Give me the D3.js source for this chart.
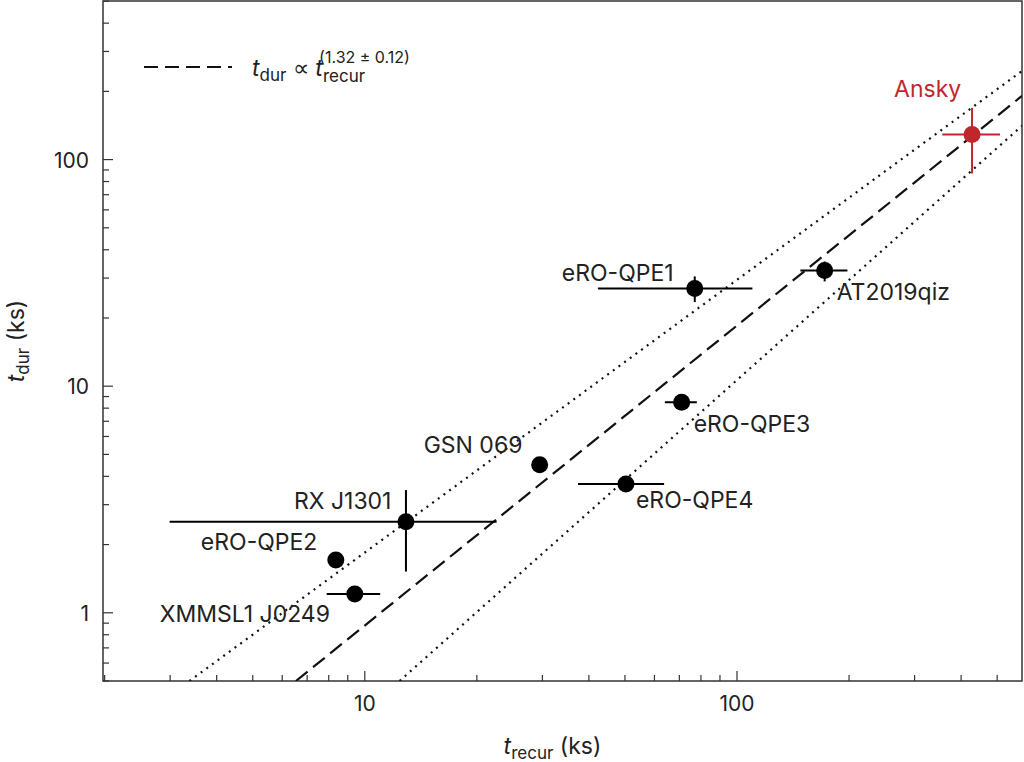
<!DOCTYPE html><html><head><meta charset="utf-8">
<script src="https://cdn.jsdelivr.net/npm/d3@7"></script>
<style>body{margin:0;background:#fff}text{font-family:Inter,"Noto Sans",sans-serif}</style></head><body>
<svg id="c" width="1024" height="762"></svg>
<script>
const names=["eRO-QPE1","AT2019qiz","Ansky","eRO-QPE3","GSN 069","eRO-QPE4","RX J1301","eRO-QPE2","XMMSL1 J0249"];
const trecur=[77,172,428,71,29.5,50.3,12.9,8.36,9.4];
const trecurLo=[42.3,148,356,64,29.5,37.4,2.99,8.36,7.9];
const trecurHi=[110,198,509,78,29.5,63.7,22.6,8.36,11.0];
const tdur=[27,32.4,129,8.5,4.5,3.7,2.52,1.71,1.21];
const tdurLo=[23.5,29,86.8,8.5,4.5,3.7,1.52,1.71,1.21];
const tdurHi=[30.5,35.5,169,8.5,4.5,3.7,3.48,1.71,1.21];
const labelDx=[-133,12,-78,12,-116,10,-112,-135,-195];
const labelDy=[-7,30,-38,30,-12,24,-13,-10,28];
const fitDashed=[[6.53,0.5],[583,191]];
const fitUpper=[[3.38,0.5],[583,246]];
const fitLower=[[12.4,0.5],[583,141]];
const xTicks=[10,100], yTicks=[1,10,100];

const svg=d3.select("#c");
const L=103,R=1022,T=1,B=681;
const FS=23;
const x=d3.scaleLog().domain([1.98,583]).range([L,R]);
const y=d3.scaleLog().domain([0.5,501]).range([B,T]);
const g=svg.append("g");
const xt=x.ticks(), yt=y.ticks();
xt.forEach(v=>{const maj=xTicks.includes(v);g.append("line").attr("x1",x(v)).attr("x2",x(v)).attr("y1",B).attr("y2",B-(maj?10:6)).attr("stroke","#333").attr("stroke-width",1.2);});
yt.forEach(v=>{const maj=yTicks.includes(v);g.append("line").attr("y1",y(v)).attr("y2",y(v)).attr("x1",L).attr("x2",L+(maj?10:6)).attr("stroke","#333").attr("stroke-width",1.2);});
xTicks.forEach(v=>g.append("text").attr("x",x(v)).attr("y",B+30).attr("text-anchor","middle").attr("font-size",21).attr("fill","#222").text(v));
yTicks.forEach(v=>g.append("text").attr("x",L-14).attr("y",y(v)+8).attr("text-anchor","end").attr("font-size",21).attr("fill","#222").text(v));
g.append("rect").attr("x",L).attr("y",T).attr("width",R-L).attr("height",B-T).attr("fill","none").attr("stroke","#333").attr("stroke-width",1.5);
svg.append("clipPath").attr("id","cp").append("rect").attr("x",L).attr("y",T).attr("width",R-L).attr("height",B-T);
const ln=d3.line().x(d=>x(d[0])).y(d=>y(d[1]));
const lg=svg.append("g").attr("clip-path","url(#cp)");
lg.append("path").attr("d",ln(fitDashed)).attr("stroke","#111").attr("stroke-width",2.2).attr("stroke-dasharray","15,7").attr("fill","none");
[fitUpper,fitLower].forEach(f=>lg.append("path").attr("d",ln(f)).attr("stroke","#111").attr("stroke-width",2.2).attr("stroke-dasharray","2,5").attr("fill","none"));
names.forEach((n,i)=>{
  const c=n==="Ansky"?"#c0272d":"#000";
  const px=x(trecur[i]),py=y(tdur[i]);
  lg.append("line").attr("x1",x(trecurLo[i])).attr("x2",x(trecurHi[i])).attr("y1",py).attr("y2",py).attr("stroke",c).attr("stroke-width",2);
  lg.append("line").attr("x1",px).attr("x2",px).attr("y1",y(tdurLo[i])).attr("y2",y(tdurHi[i])).attr("stroke",c).attr("stroke-width",2);
  lg.append("circle").attr("cx",px).attr("cy",py).attr("r",8.5).attr("fill",c);
  svg.append("text").attr("x",px+labelDx[i]).attr("y",py+labelDy[i]).attr("font-size",FS).attr("fill",n==="Ansky"?"#c0272d":"#222").text(n);
});
svg.append("line").attr("x1",144).attr("x2",232).attr("y1",67).attr("y2",67).attr("stroke","#111").attr("stroke-width",2).attr("stroke-dasharray","14,7");
const lt=svg.append("text").attr("x",252).attr("y",76).attr("font-size",FS).attr("fill","#222");
lt.append("tspan").attr("font-style","italic").text("t");
lt.append("tspan").attr("font-size",17).attr("dy",5).text("dur");
lt.append("tspan").attr("dy",-5).text(" ∝ ");
lt.append("tspan").attr("font-style","italic").text("t");
lt.append("tspan").attr("font-size",17).attr("dy",6).text("recur");
lt.append("tspan").attr("font-size",16).attr("dx",-46).attr("dy",-19).text("(1.32 ± 0.12)");
const xl=svg.append("text").attr("x",(L+R)/2-10).attr("y",754).attr("text-anchor","middle").attr("font-size",FS).attr("fill","#222");
xl.append("tspan").attr("font-style","italic").text("t");
xl.append("tspan").attr("font-size",17).attr("dy",5).text("recur");
xl.append("tspan").attr("dy",-5).text(" (ks)");
const yl=svg.append("text").attr("transform","translate(24,341) rotate(-90)").attr("text-anchor","middle").attr("font-size",FS).attr("fill","#222");
yl.append("tspan").attr("font-style","italic").text("t");
yl.append("tspan").attr("font-size",17).attr("dy",5).text("dur");
yl.append("tspan").attr("dy",-5).text(" (ks)");
</script></body></html>
